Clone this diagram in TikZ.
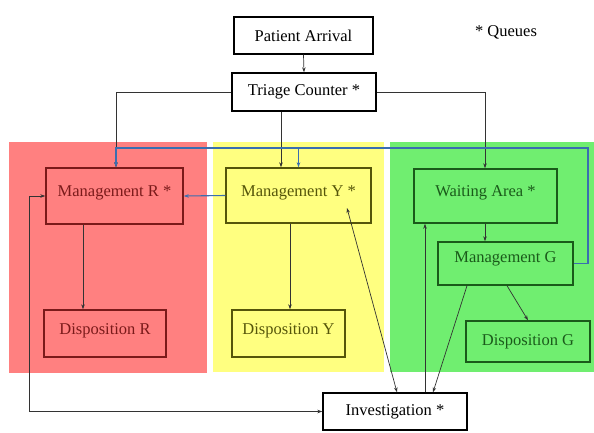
\documentclass[tikz,border=0pt]{standalone}
\usepackage{fontspec}
\setmainfont{Liberation Serif}
\usetikzlibrary{arrows.meta,calc}
\definecolor{regR}{HTML}{FF8080}
\definecolor{regY}{HTML}{FFFF80}
\definecolor{regG}{HTML}{70EE70}
\definecolor{bdR}{HTML}{7A1A1A}
\definecolor{bdY}{HTML}{55550A}
\definecolor{bdG}{HTML}{1A5A1A}
\definecolor{bl}{HTML}{3A6EB0}
\definecolor{ln}{HTML}{333333}
\tikzset{
  box/.style={draw=black, line width=1.4pt, inner sep=0pt, font=\fontsize{16.5}{18}\selectfont},
  boxR/.style={box, draw=bdR, text=bdR},
  boxY/.style={box, draw=bdY, text=bdY},
  boxG/.style={box, draw=bdG, text=bdG},
  lift/.style={text depth=#1},
  arr/.style={draw=ln, line width=0.7pt, -{Stealth[length=5pt,width=3.5pt]}},
  darr/.style={draw=ln, line width=0.7pt, {Stealth[length=5pt,width=3.5pt]}-{Stealth[length=5pt,width=3.5pt]}},
  barr/.style={draw=bl, line width=1.1pt, -{Stealth[length=5pt,width=3.5pt]}}
}
\begin{document}
\begin{tikzpicture}[x=1pt,y=-1pt]
\useasboundingbox (0,0) rectangle (594,432);
\fill[white] (0,0) rectangle (594,432);
% colored regions
\fill[regR] (9,142) rectangle (207,373);
\fill[regY] (213,142) rectangle (384,372);
\fill[regG] (390,142) rectangle (594,372);
% nodes
\node[box, minimum width=139pt, minimum height=37pt] (PA) at (303.5,35.5) {Patient Arrival};
\node[box, minimum width=144pt, minimum height=38pt] (TC) at (304,92) {Triage Counter *};
\node[font=\fontsize{16.5}{18}\selectfont, inner sep=0pt] (Q) at (506,32) {* Queues};
\node[boxR, lift=9.6pt, minimum width=137pt, minimum height=56pt] (MR) at (114.5,196) {Management R *};
\node[boxY, lift=9.6pt, minimum width=145pt, minimum height=55pt] (MY) at (298.5,195.5) {Management Y *};
\node[boxG, lift=9.6pt, minimum width=143pt, minimum height=54pt] (WA) at (485.5,196) {Waiting Area *};
\node[boxG, lift=12pt, minimum width=135pt, minimum height=43pt] (MG) at (505.5,263.5) {Management G};
\node[boxR, lift=9pt, minimum width=122pt, minimum height=47pt] (DR) at (105,333.5) {Disposition R};
\node[boxY, lift=9pt, minimum width=113pt, minimum height=47pt] (DY) at (288.5,333.5) {Disposition Y};
\node[boxG, minimum width=124pt, minimum height=41pt] (DG) at (528,341.5) {Disposition G};
\node[box, fill=white, minimum width=144pt, minimum height=37pt] (INV) at (395,411.5) {Investigation *};
% helper coordinates
\coordinate (x29) at (29,196);
\coordinate (x83) at (83,0);
\coordinate (x116) at (116,0);
\coordinate (x281) at (281,0);
\coordinate (x290) at (290,0);
\coordinate (x397) at (397,0);
\coordinate (x425) at (425,0);
\coordinate (x433) at (433,0);
\coordinate (x467) at (467,0);
\coordinate (x485) at (485,0);
\coordinate (x507) at (507,0);
\coordinate (x528) at (528,0);
\coordinate (bcorner) at (588,148);
\coordinate (myin) at (347,208);
% black connectors
\draw[arr] (PA.south) -- (TC.north);
\draw[arr] (TC.west) -| (MR.north -| x116);
\draw[arr] (TC.south -| x281) -- (MY.north -| x281);
\draw[arr] (TC.east) -| (WA.north -| x485);
\draw[arr] (MR.south -| x83) -- (DR.north -| x83);
\draw[arr] (MY.south -| x290) -- (DY.north -| x290);
\draw[arr] (WA.south -| x485) -- (MG.north -| x485);
\draw[arr] (MG.south -| x507) -- (DG.north -| x528);
\draw[arr] (MG.south -| x467) -- (INV.north -| x433);
\draw[arr] (INV.north -| x425) -- (WA.south -| x425);
\draw[darr] (INV.north -| x397) -- (myin);
\draw[darr] (INV.west) -| (x29) -- (MR.west);
% blue connectors
\draw[barr] (MG.east) -| (bcorner) -| (MR.north -| x116);
\draw[barr] (MY.north |- bcorner) -- (MY.north);
\draw[barr] (MY.west) -- (MR.east);
\end{tikzpicture}
\end{document}
